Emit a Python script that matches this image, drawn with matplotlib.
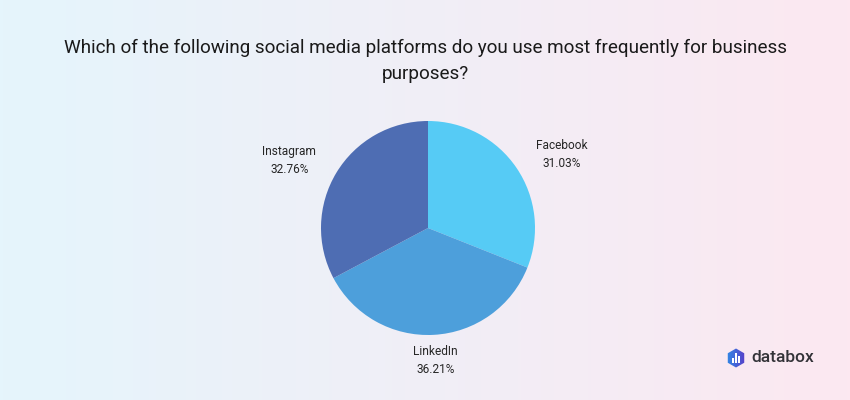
import numpy as np
import matplotlib
matplotlib.use("Agg")
import matplotlib.pyplot as plt
from matplotlib.patches import RegularPolygon, Rectangle

title = "Which of the following social media platforms do you use most frequently for business\npurposes?"
labels = ["Facebook", "LinkedIn", "Instagram"]
values = [31.03, 36.21, 32.76]
colors = ["#56CBF5", "#4D9FDB", "#4E6DB3"]

plt.rcParams['font.family'] = ['Roboto', 'DejaVu Sans']

W, H = 850, 400
fig = plt.figure(figsize=(W / 100, H / 100), dpi=100)

# background gradient
bg = fig.add_axes([0, 0, 1, 1])
grad = np.linspace(0, 1, 256)[None, :]
c1 = np.array([0xE5, 0xF5, 0xFC]) / 255
c2 = np.array([0xFC, 0xE8, 0xF1]) / 255
img = c1[None, None, :] * (1 - grad[..., None]) + c2[None, None, :] * grad[..., None]
bg.imshow(img, aspect='auto', extent=[0, 1, 0, 1])
bg.set_axis_off()

fig.text(425 / W, 1 - 61 / H, title, ha='center', va='center', fontsize=13.6,
         color='#1a1a1a', linespacing=1.55)

cx, cy, r = 428, 228, 107
ax = fig.add_axes([(cx - r) / W, (H - cy - r) / H, 2 * r / W, 2 * r / H])
wedges, _ = ax.pie(values, colors=colors, startangle=90, counterclock=False,
                   wedgeprops=dict(linewidth=0))
ax.set_xlim(-1, 1)
ax.set_ylim(-1, 1)
ax.set_aspect('equal')
ax.set_axis_off()

for w, lab, v in zip(wedges, labels, values):
    ang = np.deg2rad((w.theta1 + w.theta2) / 2)
    c, s = np.cos(ang), np.sin(ang)
    if abs(c) < 0.25:
        d, ha = 1.24, 'center'
    else:
        d, ha = 1.22, ('left' if c > 0 else 'right')
    ax.text(d * c, d * s, f"{lab}\n{v:.2f}%", ha=ha, va='center', fontsize=8.6,
            color='#262626', linespacing=1.45, clip_on=False, multialignment='center')

# logo
logo = fig.add_axes([0, 0, 1, 1], facecolor='none')
logo.set_xlim(0, W)
logo.set_ylim(H, 0)
logo.set_axis_off()
hexp = RegularPolygon((736, 358), numVertices=6, radius=9.5, orientation=0,
                      facecolor='none', edgecolor='none')
logo.add_patch(hexp)
g = np.linspace(0, 1, 64)[None, :]
a1 = np.array([0x2F, 0x8B, 0xE6]) / 255
a2 = np.array([0x5A, 0x3C, 0xC8]) / 255
gi = a1[None, None, :] * (1 - g[..., None]) + a2[None, None, :] * g[..., None]
gi = np.repeat(gi, 64, axis=0)
im = logo.imshow(gi, extent=[726, 746, 368, 348], aspect='auto', zorder=2)
im.set_clip_path(hexp)
for bx, bh in [(731.8, 5), (735, 10), (738.2, 7)]:
    logo.add_patch(Rectangle((bx, 363 - bh), 2, bh, facecolor='white',
                             edgecolor='none', zorder=3))
logo.set_xlim(0, W)
logo.set_ylim(H, 0)
logo.text(751, 358, "databox", ha='left', va='center', fontsize=12.5,
          color='#333338', fontweight='medium')

fig.savefig("out.png", dpi=100)
